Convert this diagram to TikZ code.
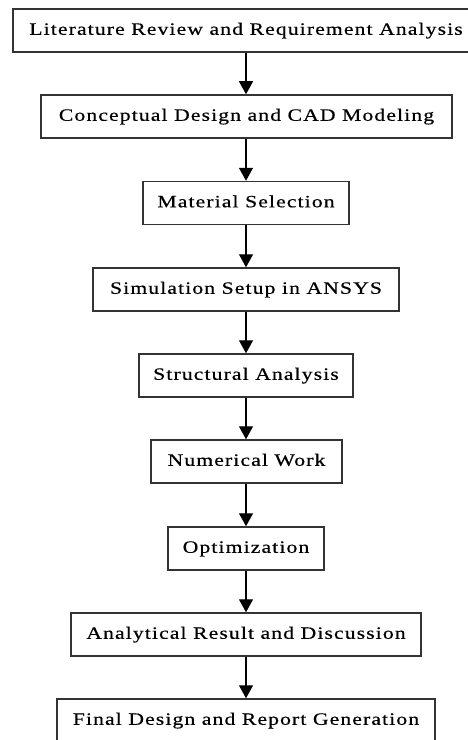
\documentclass[tikz,border=0pt]{standalone}
\usepackage{fontspec}
\setmainfont{Liberation Serif}[FakeStretch=1.25, LetterSpace=6.4, FakeBold=0.5]
\usetikzlibrary{arrows.meta}
\definecolor{boxline}{HTML}{333333}
\tikzset{
  stepbox/.style={draw=boxline, line width=1.5bp, inner sep=0pt, minimum height=43bp,
    font=\fontsize{17.4}{20}\selectfont, text=black, text height=0.95em, text depth=0.088em},
  flowarrow/.style={line width=1.3bp, -{Triangle[width=14bp,length=13bp]}}
}
\begin{document}
\begin{tikzpicture}[x=1bp,y=-1bp]
\useasboundingbox (0,0) rectangle (468,740);
\node[stepbox, minimum width=466bp] (b1) at (246,30.5) {Literature Review and Requirement Analysis};
\node[stepbox, minimum width=411bp] (b2) at (246.5,116.5) {Conceptual Design and CAD Modeling};
\node[stepbox, minimum width=206bp] (b3) at (246,203) {Material Selection};
\node[stepbox, minimum width=306bp] (b4) at (246,289.5) {Simulation Setup in ANSYS};
\node[stepbox, minimum width=214bp] (b5) at (246,375.5) {Structural Analysis};
\node[stepbox, minimum width=191bp] (b6) at (246.5,461.5) {Numerical Work};
\node[stepbox, minimum width=156bp] (b7) at (246,548.5) {Optimization};
\node[stepbox, minimum width=350bp] (b8) at (246,634.5) {Analytical Result and Discussion};
\node[stepbox, minimum width=378bp] (b9) at (246,720.5) {Final Design and Report Generation};
\foreach \a/\b in {b1/b2,b2/b3,b3/b4,b4/b5,b5/b6,b6/b7,b7/b8,b8/b9}
  \draw[flowarrow] (\a.south -| 246,0) -- (\b.north -| 246,0);
\end{tikzpicture}
\end{document}
